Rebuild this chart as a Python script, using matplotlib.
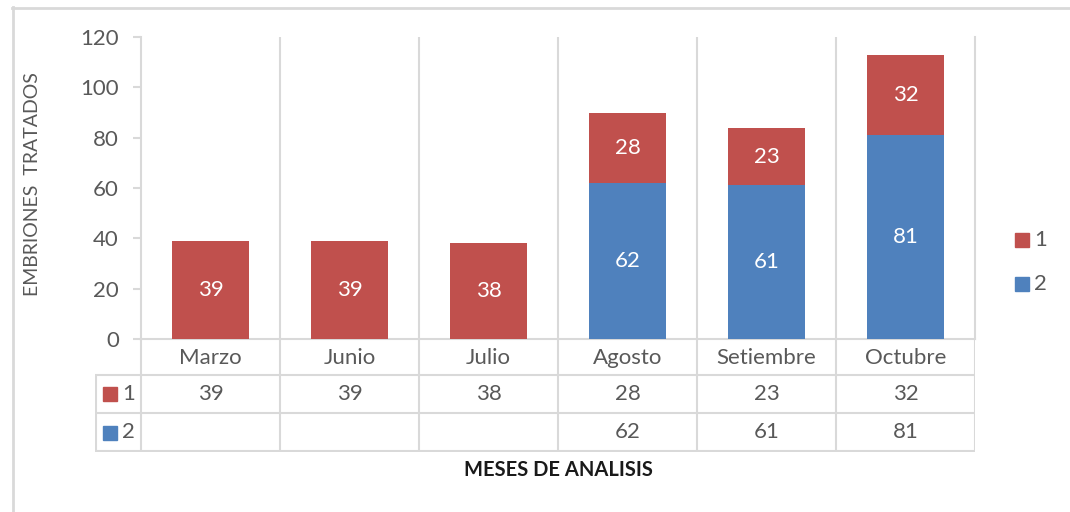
import matplotlib
matplotlib.use("Agg")
import matplotlib.pyplot as plt
from matplotlib.patches import Rectangle
from matplotlib.lines import Line2D
import numpy as np

months = ["Marzo", "Junio", "Julio", "Agosto", "Setiembre", "Octubre"]
serie1 = [39, 39, 38, 28, 23, 32]
serie2 = [None, None, None, 62, 61, 81]
series_names = ["1", "2"]
yticks = [0, 20, 40, 60, 80, 100, 120]

RED = "#C0504D"
BLUE = "#4F81BD"
TXT = "#595959"
GRID = "#D9D9D9"
FONT = "Lato"
FS = 16

W, H = 1070, 512
fig = plt.figure(figsize=(W / 100, H / 100), dpi=100)

def fx(px):
    return px / W

def fy(py):
    return 1 - py / H

# outer frame
fig.add_artist(Line2D([fx(12), fx(1070)], [fy(7.5), fy(7.5)], color=GRID, lw=2))
fig.add_artist(Line2D([fx(12.5), fx(12.5)], [fy(7), fy(512)], color=GRID, lw=2))

x0, x1 = 141, 975
ytop, ybot = 37, 339
ax = fig.add_axes([fx(x0), fy(ybot), fx(x1) - fx(x0), fy(ytop) - fy(ybot)])
x = np.arange(len(months))
b2 = np.array([v if v is not None else 0 for v in serie2], dtype=float)
b1 = np.array(serie1, dtype=float)
bw = 0.56
ax.bar(x, b2, bw, color=BLUE, zorder=3)
ax.bar(x, b1, bw, bottom=b2, color=RED, zorder=3)
for i in range(len(months)):
    if serie2[i] is not None:
        ax.text(x[i], b2[i] / 2, str(serie2[i]), ha="center", va="center",
                color="white", fontsize=FS, family=FONT, zorder=4)
    ax.text(x[i], b2[i] + b1[i] / 2, str(serie1[i]), ha="center", va="center",
            color="white", fontsize=FS, family=FONT, zorder=4)

ax.set_xlim(-0.5, len(months) - 0.5)
ax.set_ylim(0, 120)
ax.set_yticks(yticks)
ax.set_yticklabels([str(v) for v in yticks], fontsize=FS, family=FONT, color=TXT)
ax.tick_params(axis="y", length=6, width=1.5, color=GRID, pad=10)
ax.set_xticks([])
for b in np.arange(0.5, len(months) - 0.5, 1):
    ax.axvline(b, color=GRID, lw=1.5, zorder=1)
ax.spines["top"].set_visible(False)
for s in ["left", "right", "bottom"]:
    ax.spines[s].set_color(GRID)
    ax.spines[s].set_linewidth(1.5)
fig.text(fx(33), fy(184), "EMBRIONES  TRATADOS", rotation=90, ha="center",
         va="center", fontsize=14, family=FONT, color=TXT)

# data table
tl = 95
ext = (x0 - tl) / ((x1 - x0) / len(months))
tb = 452
tax = fig.add_axes([fx(tl), fy(tb), fx(x1) - fx(tl), fy(ybot) - fy(tb)])
tax.set_xlim(-0.5 - ext, len(months) - 0.5)
tax.set_ylim(tb, ybot)
tax.axis("off")
r1, r2 = 374.5, 413
lk = dict(color=GRID, lw=1.5, solid_capstyle="butt")
for b in np.arange(-0.5, len(months), 1):
    tax.plot([b, b], [ybot, tb], **lk)
tax.plot([-0.5 - ext + 0.005, -0.5 - ext + 0.005], [r1, tb], **lk)
for yy in [r1, r2, tb - 0.8]:
    tax.plot([-0.5 - ext, len(months) - 0.5], [yy, yy], **lk)
for i, m in enumerate(months):
    tax.text(i, (ybot + r1) / 2 + 1, m, ha="center", va="center", fontsize=FS,
             family=FONT, color=TXT)
    tax.text(i, (r1 + r2) / 2, str(serie1[i]), ha="center", va="center",
             fontsize=FS, family=FONT, color=TXT)
    if serie2[i] is not None:
        tax.text(i, (r2 + tb) / 2, str(serie2[i]), ha="center", va="center",
                 fontsize=FS, family=FONT, color=TXT)

# legend keys in table
for name, col, (ya, yb) in [(series_names[0], RED, (r1, r2)), (series_names[1], BLUE, (r2, tb))]:
    yc = (ya + yb) / 2
    fig.add_artist(Rectangle((fx(103), fy(yc + 7)), fx(14), fy(0) - fy(14),
                             color=col, transform=fig.transFigure))
    fig.text(fx(122), fy(yc), name, ha="left", va="center", fontsize=FS,
             family=FONT, color=TXT)

# right legend
for name, col, yc in [(series_names[0], RED, 240), (series_names[1], BLUE, 284)]:
    fig.add_artist(Rectangle((fx(1015), fy(yc + 7)), fx(14), fy(0) - fy(14),
                             color=col, transform=fig.transFigure))
    fig.text(fx(1034), fy(yc), name, ha="left", va="center", fontsize=FS,
             family=FONT, color=TXT)

fig.text(fx(558), fy(470), "MESES DE ANALISIS", ha="center", va="center",
         fontsize=14.5, fontweight="bold", family=FONT, color="#1a1a1a")

fig.savefig("out.png", dpi=100)
